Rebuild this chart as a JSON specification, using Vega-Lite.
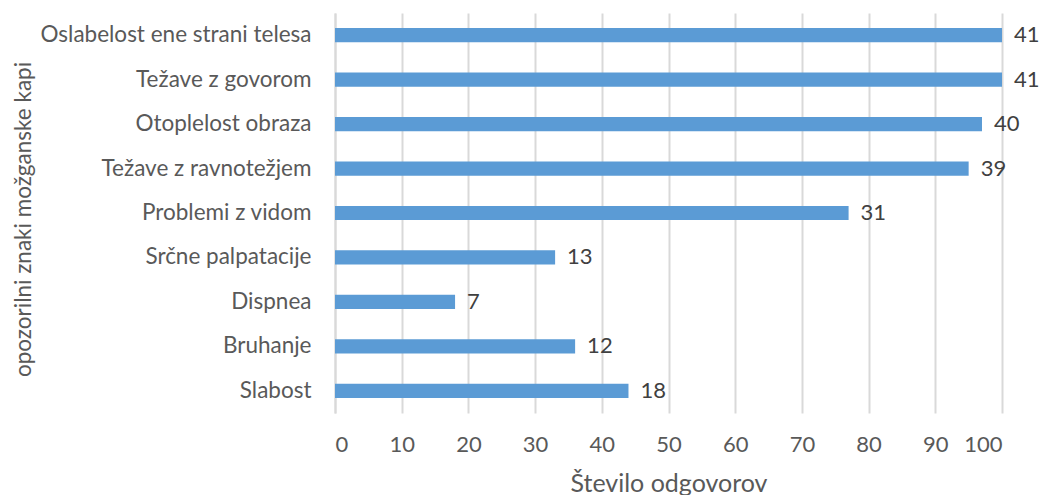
{
  "$schema": "https://vega.github.io/schema/vega-lite/v6.json",
  "autosize": "none",
  "width": 667,
  "height": 400,
  "padding": {"left": 335, "top": 13, "right": 43, "bottom": 82},
  "background": "white",
  "config": {
    "view": {"stroke": null},
    "font": "Lato"
  },
  "data": {
    "values": [
      {"znak": "Oslabelost ene strani telesa", "pct": 100, "n": 41},
      {"znak": "Težave z govorom", "pct": 100, "n": 41},
      {"znak": "Otoplelost obraza", "pct": 97, "n": 40},
      {"znak": "Težave z ravnotežjem", "pct": 95, "n": 39},
      {"znak": "Problemi z vidom", "pct": 77, "n": 31},
      {"znak": "Srčne palpatacije", "pct": 33, "n": 13},
      {"znak": "Dispnea", "pct": 18, "n": 7},
      {"znak": "Bruhanje", "pct": 36, "n": 12},
      {"znak": "Slabost", "pct": 44, "n": 18}
    ]
  },
  "encoding": {
    "y": {
      "field": "znak",
      "type": "nominal",
      "sort": null,
      "scale": {"paddingInner": 0.68, "paddingOuter": 0.34},
      "axis": {
        "title": "opozorilni znaki možganske kapi",
        "titleFont": "Lato",
        "titleFontSize": 22.5,
        "titleFontWeight": "normal",
        "titleColor": "#595959",
        "titleX": -312,
        "titleY": 206,
        "titleAngle": 270,
        "titleAlign": "center",
        "titleBaseline": "middle",
        "labelFont": "Lato",
        "labelFontSize": 22.5,
        "labelColor": "#595959",
        "labelPadding": 24,
        "labelLimit": 0,
        "ticks": false,
        "domainColor": "#d9d9d9",
        "domainWidth": 2,
        "grid": false
      }
    }
  },
  "layer": [
    {
      "mark": {"type": "bar", "color": "#5b9bd5"},
      "encoding": {
        "x": {
          "field": "pct",
          "type": "quantitative",
          "scale": {"domain": [0, 100], "nice": false},
          "axis": {
            "title": "Število odgovorov",
            "titleFont": "Lato",
            "titleFontSize": 25,
            "titleFontWeight": "normal",
            "titleColor": "#595959",
            "titlePadding": 16,
            "values": [0, 10, 20, 30, 40, 50, 60, 70, 80, 90, 100],
            "labelFont": "Lato",
            "labelFontSize": 22,
            "labelColor": "#595959",
            "labelPadding": 21,
            "ticks": false,
            "domain": false,
            "grid": true,
            "gridColor": "#d9d9d9",
            "gridWidth": 2
          }
        }
      }
    },
    {
      "mark": {"type": "text", "align": "left", "dx": 12, "fontSize": 22, "color": "#404040", "font": "Lato"},
      "encoding": {
        "x": {"field": "pct", "type": "quantitative"},
        "text": {"field": "n", "type": "quantitative"}
      }
    }
  ]
}
